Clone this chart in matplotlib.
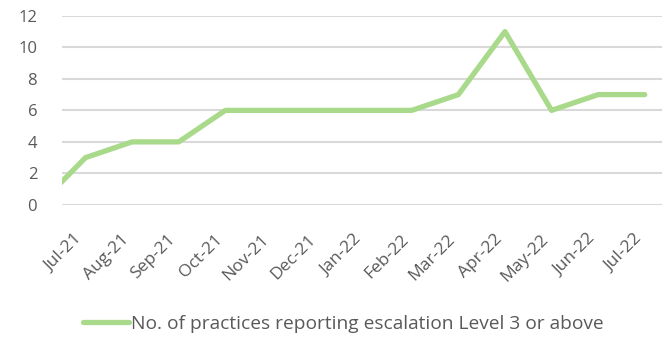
import matplotlib
matplotlib.use('Agg')
import matplotlib.pyplot as plt
from matplotlib.transforms import ScaledTranslation

# monthly counts, Jun-21 is only there so the line enters from the left edge
months = ['Jun-21', 'Jul-21', 'Aug-21', 'Sep-21', 'Oct-21', 'Nov-21', 'Dec-21',
          'Jan-22', 'Feb-22', 'Mar-22', 'Apr-22', 'May-22', 'Jun-22', 'Jul-22']
practices = [0, 3, 4, 4, 6, 6, 6, 6, 6, 7, 11, 6, 7, 7]
yticks = [0, 2, 4, 6, 8, 10, 12]

plt.rcParams['font.family'] = ['Open Sans', 'DejaVu Sans']
grey = '#595959'

fig = plt.figure(figsize=(6.62, 3.37), dpi=100)
ax = fig.add_axes([0.094, 0.392, 0.906, 0.561])

x = list(range(-1, len(months) - 1))
ax.plot(x, practices, color='#a9d98a', linewidth=3.8, solid_capstyle='round',
        label='No. of practices reporting escalation Level 3 or above')

ax.set_xlim(-0.5, 12.37)
ax.set_ylim(0, 12)
ax.set_yticks(yticks)
ax.set_xticks(range(0, 13))
ax.set_xticklabels(months[1:], rotation=45, ha='right', va='center',
                   rotation_mode='anchor')
ax.grid(axis='y', color='#d9d9d9', linewidth=1.5)
ax.set_axisbelow(True)
for s in ax.spines.values():
    s.set_visible(False)
ax.tick_params(axis='both', length=0, colors=grey)
ax.tick_params(axis='y', pad=18, labelsize=12)
ax.tick_params(axis='x', pad=23, labelsize=12.5)

# nudge the rotated month labels a little to the left
shift = ScaledTranslation(-4 / 72, 0, fig.dpi_scale_trans)
for lbl in ax.get_xticklabels():
    lbl.set_transform(lbl.get_transform() + shift)

fig.legend(loc='center', bbox_to_anchor=(0.519, 0.04), frameon=False, fontsize=13.8,
           handlelength=2.4, handletextpad=0.1, labelcolor=grey)

fig.savefig('out.png', dpi=100)
